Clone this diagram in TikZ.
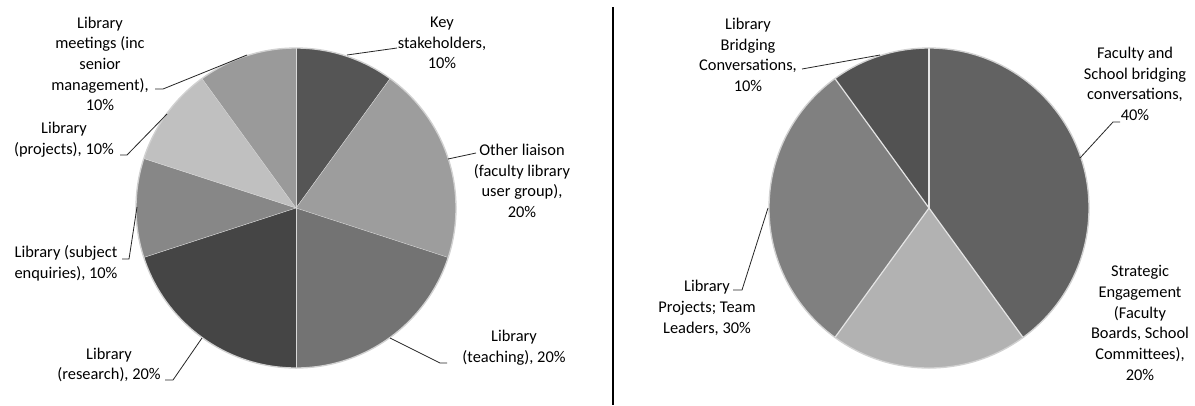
\documentclass[tikz,border=0pt]{standalone}
\usepackage{fontspec}
\setmainfont{Carlito}
\begin{document}
\begin{tikzpicture}[x=0.75pt,y=-0.75pt,
  lbl/.style={align=center,inner sep=0pt,font=\fontsize{12.3}{15.5}\selectfont},
  leader/.style={draw=black!85,line width=0.6pt},
  sepl/.style={draw=white!85!black,line width=0.3pt},
  sepr/.style={draw=white!90!black,line width=0.9pt},
  rim/.style={draw=black!18,line width=1pt}]
\useasboundingbox[fill=white] (0,0) rectangle (1195,405);
% ---------- left pie ----------
\coordinate (L) at (296,208);
\def\R{160}
\fill[fill={rgb,255:red,85;green,85;blue,85}] (L) -- ++(-90:\R) arc[start angle=-90,end angle=-54,radius=\R] -- cycle;
\fill[fill={rgb,255:red,157;green,157;blue,157}] (L) -- ++(-54:\R) arc[start angle=-54,end angle=18,radius=\R] -- cycle;
\fill[fill={rgb,255:red,115;green,115;blue,115}] (L) -- ++(18:\R) arc[start angle=18,end angle=90,radius=\R] -- cycle;
\fill[fill={rgb,255:red,69;green,69;blue,69}] (L) -- ++(90:\R) arc[start angle=90,end angle=162,radius=\R] -- cycle;
\fill[fill={rgb,255:red,135;green,135;blue,135}] (L) -- ++(162:\R) arc[start angle=162,end angle=198,radius=\R] -- cycle;
\fill[fill={rgb,255:red,192;green,192;blue,192}] (L) -- ++(198:\R) arc[start angle=198,end angle=234,radius=\R] -- cycle;
\fill[fill={rgb,255:red,154;green,154;blue,154}] (L) -- ++(234:\R) arc[start angle=234,end angle=270,radius=\R] -- cycle;
\foreach \a in {-90,-54,18,90,162,198,234} \draw[sepl] (L) -- ++(\a:\R);
\draw[rim] (L) circle[radius=\R];
% ---------- right pie ----------
\coordinate (Rc) at (929,208);
\fill[fill={rgb,255:red,98;green,98;blue,98}] (Rc) -- ++(-90:\R) arc[start angle=-90,end angle=54,radius=\R] -- cycle;
\fill[fill={rgb,255:red,178;green,178;blue,178}] (Rc) -- ++(54:\R) arc[start angle=54,end angle=126,radius=\R] -- cycle;
\fill[fill={rgb,255:red,128;green,128;blue,128}] (Rc) -- ++(126:\R) arc[start angle=126,end angle=234,radius=\R] -- cycle;
\fill[fill={rgb,255:red,82;green,82;blue,82}] (Rc) -- ++(234:\R) arc[start angle=234,end angle=270,radius=\R] -- cycle;
\foreach \a in {-90,54,126,234} \draw[sepr] (Rc) -- ++(\a:\R);
\draw[rim] (Rc) circle[radius=\R];
% ---------- divider ----------
\coordinate (dTop) at (613,7);
\coordinate (dBot) at (613,405);
\draw[line width=0.9pt] (dTop) -- (dBot);
% ---------- left labels ----------
\node[lbl] (key) at (442,43) {Key\\stakeholders,\\10\%};
\coordinate (keyP) at (347,55);
\coordinate (keyT) at (397,48);
\draw[leader] (keyP) -- (keyT);

\node[lbl] (oth) at (522,181) {Other liaison\\(faculty library\\user group),\\20\%};
\coordinate (othP) at (448,159);
\coordinate (othT) at (476,153);
\draw[leader] (othP) -- (othT);

\node[lbl] (tea) at (514,348) {Library\\(teaching), 20\%};
\coordinate (teaP) at (390,338);
\coordinate (teaK) at (440,363);
\coordinate (teaT) at (447,363);
\draw[leader] (teaP) -- (teaK) -- (teaT);

\node[lbl] (res) at (109,365) {Library\\(research), 20\%};
\coordinate (resP) at (202,338);
\coordinate (resK) at (173,380);
\coordinate (resT) at (165,380);
\draw[leader] (resP) -- (resK) -- (resT);

\node[lbl] (sub) at (66,263) {Library (subject\\enquiries), 10\%};
\coordinate (subP) at (137,207);
\coordinate (subK) at (129,259);
\coordinate (subT) at (122,259);
\draw[leader] (subP) -- (subK) -- (subT);

\node[lbl] (pro) at (64,140) {Library\\(projects), 10\%};
\coordinate (proP) at (167,114);
\coordinate (proK) at (127,155);
\coordinate (proT) at (120,155);
\draw[leader] (proP) -- (proK) -- (proT);

\node[lbl] (mee) at (100,64) {Library\\meetings (inc\\senior\\management),\\10\%};
\coordinate (meeP) at (247,55);
\coordinate (meeK) at (163,89);
\coordinate (meeT) at (155,89);
\draw[leader] (meeP) -- (meeK) -- (meeT);
% ---------- right labels ----------
\node[lbl] (bri) at (748,55) {Library\\Bridging\\Conversations,\\10\%};
\coordinate (briT) at (802,69);
\coordinate (briP) at (880,55);
\draw[leader] (briT) -- (briP);

\node[lbl] (fac) at (1135,84) {Faculty and\\School bridging\\conversations,\\40\%};
\coordinate (facP) at (1080,158);
\coordinate (facK) at (1113,122);
\coordinate (facT) at (1120,122);
\draw[leader] (facP) -- (facK) -- (facT);

\node[lbl] (str) at (1140,323) {Strategic\\Engagement\\(Faculty\\Boards, School\\Committees),\\20\%};

\node[lbl] (lpt) at (707,308) {Library\\Projects; Team\\Leaders, 30\%};
\coordinate (lptT) at (733,290);
\coordinate (lptK) at (742,290);
\coordinate (lptP) at (768,208);
\draw[leader] (lptT) -- (lptK) -- (lptP);
\end{tikzpicture}
\end{document}
